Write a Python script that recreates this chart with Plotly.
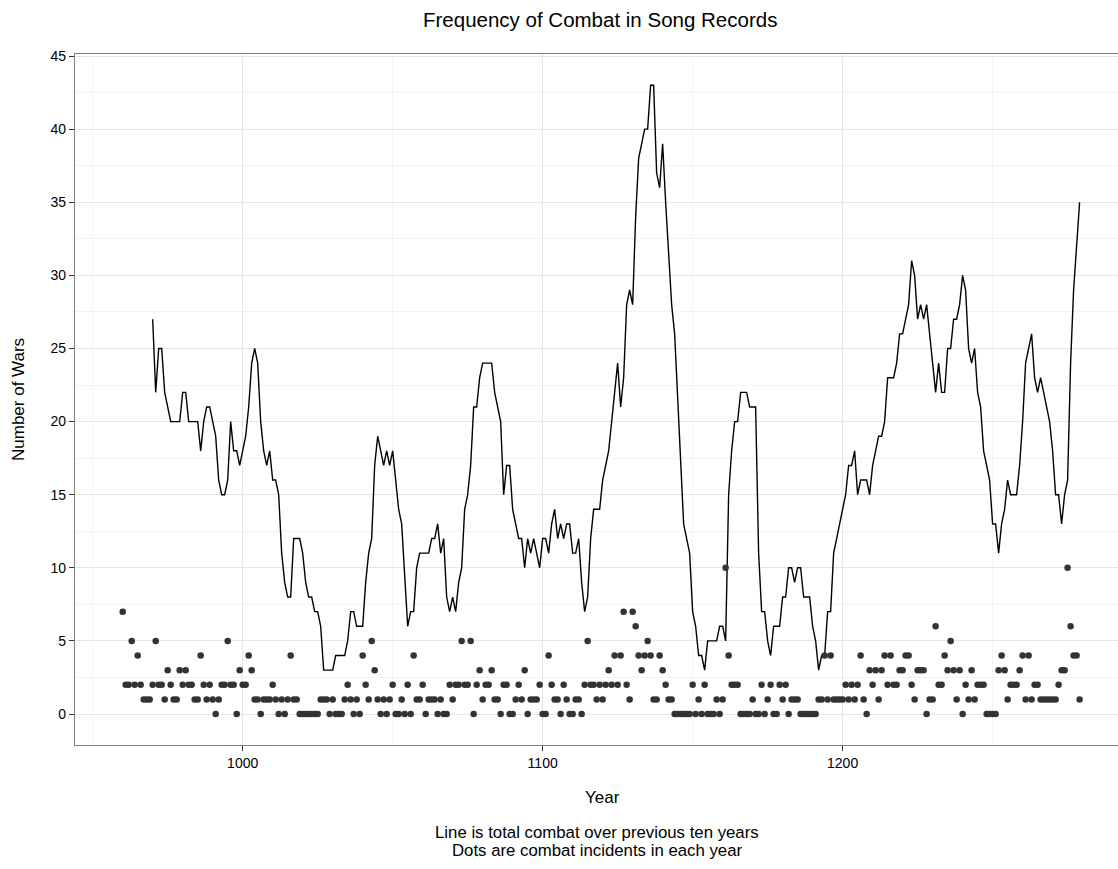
import plotly.graph_objects as go

# ---- data ----
dot_years = list(range(960, 1280))
dot_values = [
    7, 2, 2, 5, 2, 4, 2, 1, 1, 1,   # 960s
    2, 5, 2, 2, 1, 3, 2, 1, 1, 3,   # 970s
    2, 3, 2, 2, 1, 1, 4, 2, 1, 2,   # 980s
    1, 0, 1, 2, 2, 5, 2, 2, 0, 3,   # 990s
    2, 2, 4, 3, 1, 1, 0, 1, 1, 1,   # 1000s
    2, 1, 0, 1, 0, 1, 4, 1, 1, 0,   # 1010s
    0, 0, 0, 0, 0, 0, 1, 1, 1, 0,   # 1020s
    1, 0, 0, 0, 1, 2, 1, 0, 1, 0,   # 1030s
    4, 2, 1, 5, 3, 1, 0, 1, 0, 1,   # 1040s
    2, 0, 0, 1, 0, 2, 0, 4, 1, 1,   # 1050s
    2, 0, 1, 1, 1, 0, 1, 0, 0, 2,   # 1060s
    1, 2, 2, 5, 2, 2, 5, 0, 2, 3,   # 1070s
    1, 2, 2, 3, 1, 1, 0, 2, 2, 0,   # 1080s
    0, 1, 2, 1, 3, 0, 1, 1, 1, 2,   # 1090s
    0, 0, 4, 2, 1, 1, 0, 2, 1, 0,   # 1100s
    0, 1, 1, 0, 2, 5, 2, 2, 1, 2,   # 1110s
    1, 2, 3, 2, 4, 2, 4, 7, 2, 1,   # 1120s
    7, 6, 4, 3, 4, 5, 4, 1, 1, 4,   # 1130s
    3, 2, 1, 1, 0, 0, 0, 0, 0, 0,   # 1140s
    2, 0, 1, 0, 2, 0, 0, 0, 1, 0,   # 1150s
    1, 10, 4, 2, 2, 2, 0, 0, 0, 0,  # 1160s
    1, 0, 0, 2, 0, 1, 2, 0, 0, 2,   # 1170s
    1, 2, 0, 1, 1, 1, 0, 0, 0, 0,   # 1180s
    0, 0, 1, 1, 4, 1, 4, 1, 1, 1,   # 1190s
    1, 2, 1, 2, 1, 2, 4, 1, 0, 3,   # 1200s
    2, 3, 1, 3, 4, 2, 4, 2, 2, 3,   # 1210s
    3, 4, 4, 2, 1, 3, 3, 3, 0, 1,   # 1220s
    1, 6, 2, 2, 4, 3, 5, 3, 1, 3,   # 1230s
    0, 2, 1, 3, 1, 2, 2, 2, 0, 0,   # 1240s
    0, 0, 3, 4, 3, 1, 2, 2, 2, 3,   # 1250s
    4, 1, 4, 1, 2, 2, 1, 1, 1, 1,   # 1260s
    1, 1, 2, 3, 3, 10, 6, 4, 4, 1,  # 1270s
]

line_years = list(range(970, 1280))
line_values = [
    27, 22, 25, 25, 22, 21, 20, 20, 20, 20,   # 970s
    22, 22, 20, 20, 20, 20, 18, 20, 21, 21,   # 980s
    20, 19, 16, 15, 15, 16, 20, 18, 18, 17,   # 990s
    18, 19, 21, 24, 25, 24, 20, 18, 17, 18,   # 1000s
    16, 16, 15, 11, 9, 8, 8, 12, 12, 12,      # 1010s
    11, 9, 8, 8, 7, 7, 6, 3, 3, 3,            # 1020s
    3, 4, 4, 4, 4, 5, 7, 7, 6, 6,             # 1030s
    6, 9, 11, 12, 17, 19, 18, 17, 18, 17,     # 1040s
    18, 16, 14, 13, 9, 6, 7, 7, 10, 11,       # 1050s
    11, 11, 11, 12, 12, 13, 11, 12, 8, 7,     # 1060s
    8, 7, 9, 10, 14, 15, 17, 21, 21, 23,      # 1070s
    24, 24, 24, 24, 22, 21, 20, 15, 17, 17,   # 1080s
    14, 13, 12, 12, 10, 12, 11, 12, 11, 10,   # 1090s
    12, 12, 11, 13, 14, 12, 13, 12, 13, 13,   # 1100s
    11, 11, 12, 9, 7, 8, 12, 14, 14, 14,      # 1110s
    16, 17, 18, 20, 22, 24, 21, 23, 28, 29,   # 1120s
    28, 34, 38, 39, 40, 40, 43, 43, 37, 36,   # 1130s
    39, 35, 31, 28, 26, 22, 17, 13, 12, 11,   # 1140s
    7, 6, 4, 4, 3, 5, 5, 5, 5, 6,             # 1150s
    6, 5, 15, 18, 20, 20, 22, 22, 22, 21,     # 1160s
    21, 21, 11, 7, 7, 5, 4, 6, 6, 6,          # 1170s
    8, 8, 10, 10, 9, 10, 10, 8, 8, 8,         # 1180s
    6, 5, 3, 4, 4, 7, 7, 11, 12, 13,          # 1190s
    14, 15, 17, 17, 18, 15, 16, 16, 16, 15,   # 1200s
    17, 18, 19, 19, 20, 23, 23, 23, 24, 26,   # 1210s
    26, 27, 28, 31, 30, 27, 28, 27, 28, 26,   # 1220s
    24, 22, 24, 22, 22, 25, 25, 27, 27, 28,   # 1230s
    30, 29, 25, 24, 25, 22, 21, 18, 17, 16,   # 1240s
    13, 13, 11, 13, 14, 16, 15, 15, 15, 17,   # 1250s
    20, 24, 25, 26, 23, 22, 23, 22, 21, 20,   # 1260s
    18, 15, 15, 13, 15, 16, 24, 29, 32, 35,   # 1270s
]

x_tick_vals = [1000, 1100, 1200]
x_tick_text = ["1000", "1100", "1200"]
y_tick_vals = [0, 5, 10, 15, 20, 25, 30, 35, 40, 45]
y_tick_text = [str(v) for v in y_tick_vals]

title_text = "Frequency of Combat in Song Records"
x_title = "Year"
y_title = "Number of Wars"
caption_lines = ["Line is total combat over previous ten years",
                 "Dots are combat incidents in each year"]

FONT = "Liberation Sans, Arial, Helvetica, sans-serif"

fig = go.Figure()
fig.add_trace(go.Scatter(
    x=line_years, y=line_values, mode="lines",
    line=dict(color="#000000", width=1.4), hoverinfo="x+y", showlegend=False))
fig.add_trace(go.Scatter(
    x=dot_years, y=dot_values, mode="markers",
    marker=dict(color="#333333", size=6.5, line=dict(width=0)),
    showlegend=False))

fig.update_layout(
    width=1118, height=869,
    margin=dict(l=75, r=0, t=54, b=124),
    paper_bgcolor="white", plot_bgcolor="white",
    font=dict(family=FONT, color="#000000", size=14),
    showlegend=False,
    xaxis=dict(
        range=[944.1, 1291.8], autorange=False,
        tickvals=x_tick_vals, ticktext=x_tick_text,
        ticks="outside", ticklen=5, tickwidth=1.2, tickcolor="#333333",
        tickfont=dict(size=14, color="#000000"),
        showgrid=True, gridcolor="#e6e6e6", gridwidth=1,
        minor=dict(dtick=50, tick0=950, showgrid=True, gridcolor="#f3f3f3", gridwidth=1, ticks=""),
        showline=True, linecolor="#7f7f7f", linewidth=1.3, mirror=True,
        zeroline=False,
    ),
    yaxis=dict(
        range=[-2.12, 45.14], autorange=False,
        tickvals=y_tick_vals, ticktext=y_tick_text,
        ticks="outside", ticklen=5, tickwidth=1.2, tickcolor="#333333",
        tickfont=dict(size=14, color="#000000"),
        showgrid=True, gridcolor="#e6e6e6", gridwidth=1,
        minor=dict(dtick=2.5, tick0=2.5, showgrid=True, gridcolor="#f3f3f3", gridwidth=1, ticks=""),
        showline=True, linecolor="#7f7f7f", linewidth=1.3, mirror=False,
        zeroline=False,
    ),
)


def pos(xp, yp):
    # pixel position in the full figure -> paper coords relative to the plot area
    x0, x1 = 75.0, 1118.0
    y0, y1 = 54.0, 745.0
    return (xp - x0) / (x1 - x0), (y1 - yp) / (y1 - y0)


tx, ty = pos(600, 19)
fig.add_annotation(text=title_text, x=tx, y=ty, xref="paper", yref="paper",
                   showarrow=False, xanchor="center", yanchor="middle",
                   font=dict(size=20.5, family=FONT, color="#000000"))
ax, ay = pos(602, 797)
fig.add_annotation(text=x_title, x=ax, y=ay, xref="paper", yref="paper",
                   showarrow=False, xanchor="center", yanchor="middle",
                   font=dict(size=17, family=FONT, color="#000000"))
bx, by = pos(18, 400)
fig.add_annotation(text=y_title, x=bx, y=by, xref="paper", yref="paper",
                   showarrow=False, xanchor="center", yanchor="middle", textangle=-90,
                   font=dict(size=17, family=FONT, color="#000000"))
for i, line in enumerate(caption_lines):
    cx, cy = pos(597, 833 + 17 * i)
    fig.add_annotation(text=line, x=cx, y=cy, xref="paper", yref="paper",
                       showarrow=False, xanchor="center", yanchor="middle",
                       font=dict(size=16.8, family=FONT, color="#000000"))

fig.write_html("out.html",
               config={"displayModeBar": False},
               post_script="document.body.style.margin='0px';document.body.style.overflow='hidden';")
